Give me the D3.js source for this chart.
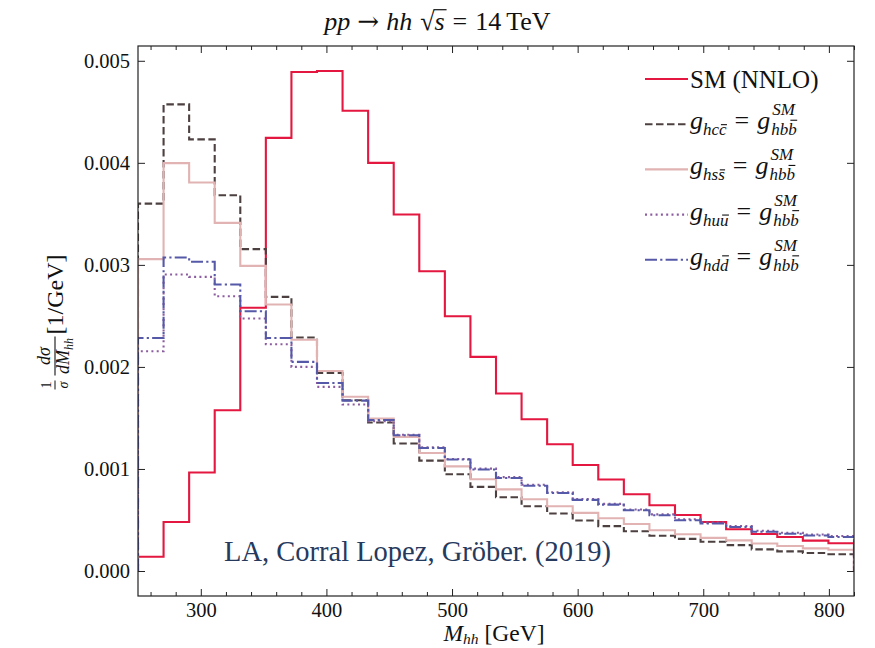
<!DOCTYPE html>
<html>
<head>
<meta charset="utf-8">
<script src="https://cdn.jsdelivr.net/npm/d3@7"></script>
<style>
  html, body { margin: 0; padding: 0; background: #fff; }
  svg { display: block; }
</style>
</head>
<body>
<svg id="chart" width="875" height="648"></svg>
<script>
// Histogram binning of M_hh: 28 equal bins between 250 and 820 GeV
const massMin = 250, massMax = 820, nBins = 28;

// Normalised distributions 1/sigma dsigma/dM_hh [1/GeV], one value per bin
const smNNLO = [0.00014, 0.00048, 0.000965, 0.001575, 0.00258, 0.004245, 0.00489, 0.0049,
  0.00451, 0.0040, 0.003494, 0.002938, 0.002497, 0.002098, 0.001739, 0.001487, 0.001242,
  0.001039, 0.000896, 0.000752, 0.000644, 0.000549, 0.00048, 0.000409, 0.000363, 0.000333,
  0.000298, 0.000272];
const gCharm = [0.0036, 0.004573, 0.00423, 0.003683, 0.003154, 0.002686, 0.002288, 0.00194,
  0.001673, 0.001455, 0.00125, 0.001082, 0.000948, 0.000824, 0.000723, 0.000634, 0.000563,
  0.000495, 0.00044, 0.00039, 0.000345, 0.000315, 0.000286, 0.000254, 0.000212, 0.000192,
  0.000176, 0.000164];
const gStrange = [0.003056, 0.003997, 0.003808, 0.003412, 0.00299, 0.002612, 0.002266, 0.00196,
  0.001708, 0.001494, 0.001314, 0.001157, 0.001025, 0.000899, 0.0008, 0.000703, 0.000634,
  0.00057, 0.000517, 0.00046, 0.0004, 0.00036, 0.000325, 0.0003, 0.00027, 0.000245,
  0.000222, 0.000208];
const gUp = [0.002154, 0.002906, 0.002882, 0.002693, 0.002474, 0.002222, 0.002, 0.001804,
  0.001631, 0.001468, 0.001335, 0.001212, 0.001098, 0.001003, 0.00092, 0.000845, 0.000772,
  0.000705, 0.000658, 0.000603, 0.000555, 0.000507, 0.000474, 0.000441, 0.000395, 0.000375,
  0.000358, 0.000343];
const gDown = [0.002284, 0.003072, 0.00303, 0.002808, 0.002546, 0.002284, 0.002049, 0.001843,
  0.00167, 0.00148, 0.00133, 0.001206, 0.001092, 0.000995, 0.000912, 0.000836, 0.000765,
  0.000697, 0.00065, 0.000595, 0.000546, 0.000497, 0.000465, 0.000431, 0.000385, 0.000365,
  0.000348, 0.000333];

const xMajorTicks = [300, 400, 500, 600, 700, 800];
const yTicks = [0.000, 0.001, 0.002, 0.003, 0.004, 0.005];

const series = [
  { values: smNNLO,   color: "#e3173f", dash: null },
  { values: gCharm,   color: "#4d4040", dash: "7.5,3.5" },
  { values: gStrange, color: "#e2b3b3", dash: null },
  { values: gUp,      color: "#8c5ca0", dash: "2,3.3" },
  { values: gDown,    color: "#5659a8", dash: "12,3.2,2.2,3.2" }
];

const FONT = "'Liberation Serif', 'DejaVu Serif', serif";
const svg = d3.select("#chart");
const P = { left: 138, right: 854, top: 46, bottom: 596 };

const x = d3.scaleLinear().domain([massMin, massMax]).range([P.left, P.right]);
const y = d3.scaleLinear().domain([-0.000245, 0.005145]).range([P.bottom, P.top]);

const edges = d3.range(nBins + 1).map(i => massMin + i * (massMax - massMin) / nBins);
const xMinorTicks = d3.range(260, 821, 20).filter(v => !xMajorTicks.includes(v));

svg.append("defs").append("clipPath").attr("id", "plotClip")
  .append("rect").attr("x", P.left).attr("y", P.top)
  .attr("width", P.right - P.left).attr("height", P.bottom - P.top);

// Step outlines, closed down to zero at both ends
const line = d3.line().x(d => x(d[0])).y(d => y(d[1]));
const plot = svg.append("g").attr("clip-path", "url(#plotClip)");
series.forEach(s => {
  const pts = [[edges[0], 0]];
  s.values.forEach((v, i) => { pts.push([edges[i], v]); pts.push([edges[i + 1], v]); });
  pts.push([edges[nBins], 0]);
  plot.append("path").attr("d", line(pts))
    .attr("fill", "none").attr("stroke", s.color).attr("stroke-width", 2.1)
    .attr("stroke-dasharray", s.dash).attr("stroke-linejoin", "miter");
});

// Axes with inward ticks on all four sides
const axG = svg.append("g").attr("class", "axes");
function styleAxis(g) {
  g.select(".domain").remove();
  g.selectAll(".tick line").attr("stroke", "#222").attr("stroke-width", 1);
  g.selectAll(".tick text").attr("font-family", FONT).attr("font-size", 20.5).attr("fill", "#111");
}
axG.append("g").attr("transform", `translate(0,${P.bottom})`)
  .call(d3.axisBottom(x).tickValues(xMajorTicks).tickSizeInner(-7).tickSizeOuter(0).tickPadding(6).tickFormat(d3.format("d")))
  .call(styleAxis);
axG.append("g").attr("transform", `translate(0,${P.bottom})`)
  .call(d3.axisBottom(x).tickValues(xMinorTicks).tickSizeInner(-4).tickSizeOuter(0).tickFormat(""))
  .call(styleAxis);
axG.append("g").attr("transform", `translate(0,${P.top})`)
  .call(d3.axisTop(x).tickValues(xMajorTicks).tickSizeInner(-7).tickSizeOuter(0).tickFormat(""))
  .call(styleAxis);
axG.append("g").attr("transform", `translate(0,${P.top})`)
  .call(d3.axisTop(x).tickValues(xMinorTicks).tickSizeInner(-4).tickSizeOuter(0).tickFormat(""))
  .call(styleAxis);
axG.append("g").attr("transform", `translate(${P.left},0)`)
  .call(d3.axisLeft(y).tickValues(yTicks).tickSizeInner(-7).tickSizeOuter(0).tickPadding(8).tickFormat(d3.format(".3f")))
  .call(styleAxis);
axG.append("g").attr("transform", `translate(${P.right},0)`)
  .call(d3.axisRight(y).tickValues(yTicks).tickSizeInner(-7).tickSizeOuter(0).tickFormat(""))
  .call(styleAxis);
svg.append("rect").attr("x", P.left).attr("y", P.top)
  .attr("width", P.right - P.left).attr("height", P.bottom - P.top)
  .attr("fill", "none").attr("stroke", "#222").attr("stroke-width", 1.2);

// Small layout helper for inline math: runs of text laid left to right
function addText(g, x0, y0, str, size, italic) {
  return g.append("text").attr("x", x0).attr("y", y0)
    .attr("font-family", FONT).attr("font-size", size).attr("fill", "#111")
    .attr("font-style", italic ? "italic" : "normal").text(str);
}
function textW(t) { return t.node().getComputedTextLength(); }
function mathRun(g, x0, y0, items) {
  let cx = x0;
  items.forEach(it => {
    if (it.stack) {
      let wa = 0;
      if (it.sup) wa = textW(addText(g, cx + (it.supShift || 0), y0 - it.up, it.sup, it.size, true)) + (it.supShift || 0);
      const wb = mathRun(g, cx, y0 + it.down, it.sub);
      cx += Math.max(wa, wb) + (it.after || 0);
    } else {
      const t = addText(g, cx, y0 + (it.dy || 0), it.t, it.size, it.italic);
      const w = textW(t);
      if (it.bar) {
        const by = y0 + (it.dy || 0) - it.size * it.bar;
        g.append("line").attr("x1", cx + w * 0.25).attr("x2", cx + w * 1.05)
          .attr("y1", by).attr("y2", by).attr("stroke", "#111").attr("stroke-width", 1.1);
      }
      cx += w + (it.after || 0);
    }
  });
  return cx - x0;
}

// Title, centred on the figure
const tg = svg.append("g");
const tSize = 26;
let tx = 0;
tx += mathRun(tg, tx, 0, [{ t: "pp", size: tSize, italic: true, after: 7 }]);
const arrow = addText(tg, tx, 0, "→", tSize, false).attr("font-family", "'DejaVu Serif', serif");
tx += textW(arrow) + 7;
tx += mathRun(tg, tx, 0, [{ t: "hh", size: tSize, italic: true, after: 8 }, { t: "√", size: tSize, after: 0 }]);
const sStart = tx;
tx += mathRun(tg, tx, 0, [{ t: "s", size: tSize, italic: true, after: 2 }]);
tg.append("line").attr("x1", sStart - 1).attr("x2", tx).attr("y1", -tSize * 0.78).attr("y2", -tSize * 0.78)
  .attr("stroke", "#111").attr("stroke-width", 1.2);
tx += 6;
tx += mathRun(tg, tx, 0, [{ t: "=", size: tSize, after: 8 }, { t: "14", size: tSize, after: 5 }, { t: "TeV", size: tSize }]);
tg.attr("transform", `translate(${875 / 2 - tx / 2},30)`);

// x-axis label
const xg = svg.append("g");
const xw = mathRun(xg, 0, 0, [{ t: "M", size: 23.5, italic: true }, { t: "hh", size: 15.5, italic: true, dy: 3, after: 6 },
  { t: "[GeV]", size: 23.5 }]);
xg.attr("transform", `translate(${(P.left + P.right) / 2 - xw / 2 - 2},641)`);

// y-axis label, rotated to read bottom-to-top
const yg = svg.append("g");
let yx = 0;
const one = addText(yg, yx, -12, "1", 14, false);
const sig = addText(yg, yx, 5, "σ", 14, true);
const w1 = Math.max(textW(one), textW(sig)) + 2;
one.attr("x", yx + (w1 - textW(one)) / 2);
sig.attr("x", yx + (w1 - textW(sig)) / 2);
yg.append("line").attr("x1", yx).attr("x2", yx + w1).attr("y1", -8).attr("y2", -8).attr("stroke", "#111").attr("stroke-width", 1);
yx += w1 + 5;
const num = addText(yg, 0, -13, "dσ", 18, true);
const denG = yg.append("g");
const wDen = mathRun(denG, 0, 6, [{ t: "dM", size: 18, italic: true }, { t: "hh", size: 12, italic: true, dy: 4 }]);
const wFrac = Math.max(textW(num), wDen) + 3;
num.attr("x", yx + (wFrac - textW(num)) / 2);
denG.attr("transform", `translate(${yx + (wFrac - wDen) / 2},0)`);
yg.append("line").attr("x1", yx).attr("x2", yx + wFrac).attr("y1", -8).attr("y2", -8).attr("stroke", "#111").attr("stroke-width", 1.1);
yx += wFrac + 2;
const unit = addText(yg, yx, 0, "[1/GeV]", 24, false);
yx += textW(unit);
yg.attr("transform", `translate(63,${322 + yx / 2}) rotate(-90)`);

// Legend
const legendRows = [
  { s: 0, label: [{ t: "SM (NNLO)", size: 25 }] },
  { s: 1, q: ["c", 0.62] },
  { s: 2, q: ["s", 0.62] },
  { s: 3, q: ["u", 0.62] },
  { s: 4, q: ["d", 0.88] }
];
const subSize = 17;
function quarkSub(ch, barH) {
  return [{ t: "h", size: subSize, italic: true }, { t: ch, size: subSize, italic: true },
    { t: ch, size: subSize, italic: true, bar: barH }];
}
const lg = svg.append("g");
legendRows.forEach((r, i) => {
  const ly = 79 + i * 45.2;
  const s = series[r.s];
  lg.append("line").attr("x1", 645).attr("x2", 688).attr("y1", ly).attr("y2", ly)
    .attr("stroke", s.color).attr("stroke-width", 2.1).attr("stroke-dasharray", s.dash);
  if (r.label) {
    mathRun(lg, 690, ly + 9, r.label);
  } else {
    const base = ly + 5;
    mathRun(lg, 690, base, [
      { t: "g", size: 26, italic: true },
      { stack: true, sup: "", up: 0, down: 6, sub: quarkSub(r.q[0], r.q[1]), size: subSize, after: 8 },
      { t: "=", size: 26, after: 8 },
      { t: "g", size: 26, italic: true, after: 1 },
      { stack: true, sup: "SM", up: 14, down: 6, sub: quarkSub("b", 0.88), size: subSize, supShift: 1 }
    ]);
  }
});

// Credit line
svg.append("text").attr("x", 224).attr("y", 561).attr("font-family", FONT).attr("font-size", 28.5)
  .attr("fill", "#263a5e").text("LA, Corral Lopez, Gröber.  (2019)");
</script>
</body>
</html>
